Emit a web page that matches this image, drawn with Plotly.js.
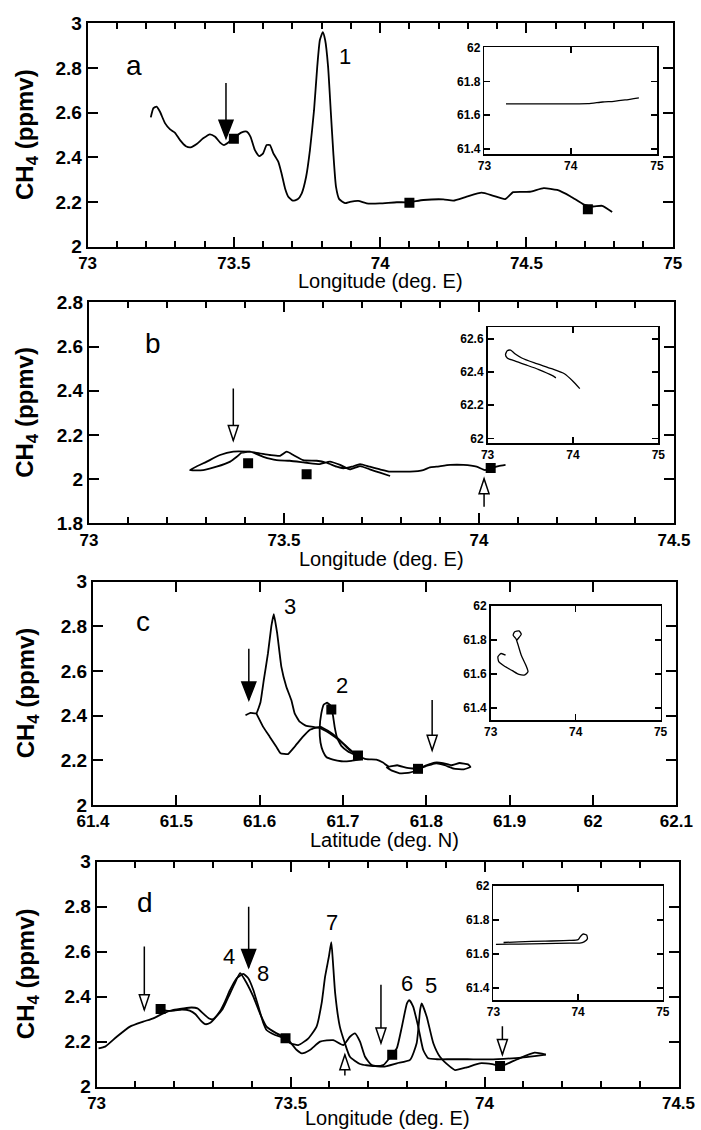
<!DOCTYPE html>
<html>
<head>
<meta charset="utf-8">
<script src="https://cdn.plot.ly/plotly-3.0.1.min.js"></script>
<style>html,body{margin:0;padding:0;background:#fff;}#chart{width:701px;height:1130px;}</style>
</head>
<body>
<div id="chart"></div>
<script>
// ---------------- Panel a ----------------
const aLon = [73.216,73.225,73.236,73.247,73.265,73.282,73.299,73.316,73.336,73.352,73.373,73.395,73.418,73.436,73.453,73.466,73.481,73.498,73.527,73.544,73.557,73.572,73.587,73.6,73.612,73.623,73.635,73.652,73.663,73.675,73.686,73.701,73.718,73.732,73.747,73.76,73.774,73.785,73.794,73.804,73.812,73.822,73.831,73.84,73.849,73.86,73.88,73.897,73.925,73.954,73.999,74.057,74.096,74.148,74.216,74.25,74.296,74.347,74.387,74.427,74.455,74.512,74.559,74.605,74.651,74.697,74.728,74.759,74.793];
const aCH4 = [2.579,2.62,2.627,2.605,2.552,2.525,2.51,2.477,2.45,2.445,2.46,2.485,2.503,2.492,2.466,2.455,2.466,2.485,2.512,2.515,2.492,2.432,2.405,2.418,2.455,2.455,2.418,2.38,2.328,2.261,2.224,2.206,2.212,2.239,2.313,2.432,2.611,2.806,2.925,2.96,2.925,2.806,2.611,2.418,2.269,2.213,2.195,2.201,2.205,2.194,2.194,2.199,2.199,2.209,2.212,2.206,2.224,2.242,2.228,2.213,2.244,2.246,2.262,2.254,2.225,2.188,2.18,2.183,2.155];
const aSqLon = [73.5, 74.1, 74.71];
const aSqCH4 = [2.483, 2.197, 2.168];
const aInsLon = [73.25, 73.6, 74.0, 74.2, 74.37, 74.5, 74.63, 74.79];
const aInsLat = [61.667, 61.667, 61.667, 61.668, 61.678, 61.682, 61.69, 61.703];

// ---------------- Panel b ----------------
const bLon = [74.068,74.05,74.026,74.015,73.994,73.96,73.926,73.891,73.874,73.857,73.823,73.797,73.772,73.746,73.72,73.695,73.674,73.652,73.635,73.609,73.584,73.549,73.524,73.507,73.49,73.464,73.43,73.404,73.37,73.336,73.302,73.259,73.293,73.327,73.362,73.379,73.391,73.413,73.447,73.481,73.515,73.558,73.592,73.618,73.644,73.669,73.695,73.72,73.746,73.772];
const bCH4 = [2.064,2.059,2.047,2.041,2.056,2.064,2.064,2.056,2.053,2.041,2.034,2.034,2.034,2.044,2.056,2.068,2.056,2.049,2.056,2.074,2.083,2.086,2.109,2.124,2.105,2.109,2.119,2.124,2.124,2.109,2.079,2.041,2.041,2.056,2.079,2.101,2.119,2.124,2.101,2.086,2.083,2.074,2.068,2.079,2.064,2.044,2.059,2.044,2.029,2.014];
const bSqLon = [73.408, 73.558, 74.03];
const bSqCH4 = [2.072, 2.022, 2.05];
const bInsLon = [74.08, 74.0, 73.9, 73.75, 73.55, 73.4, 73.32, 73.27, 73.23, 73.21, 73.23, 73.3, 73.45, 73.6, 73.76, 73.8];
const bInsLat = [62.3, 62.345, 62.39, 62.42, 62.455, 62.485, 62.51, 62.532, 62.528, 62.505, 62.485, 62.47, 62.443, 62.415, 62.378, 62.365];

// ---------------- Panel c ----------------
const cPeak3Lat = [61.583,61.589,61.596,61.601,61.605,61.61,61.614,61.617,61.621,61.626,61.632,61.638,61.642,61.648,61.656,61.664,61.672,61.68,61.69,61.7,61.708,61.718,61.728,61.74,61.748,61.755,61.765,61.777,61.79,61.8,61.81,61.82,61.83,61.84,61.85,61.853,61.845,61.833,61.822,61.812,61.8,61.79,61.78,61.768,61.758,61.752];
const cPeak3CH4 = [2.402,2.413,2.41,2.46,2.56,2.68,2.8,2.855,2.77,2.62,2.53,2.47,2.41,2.373,2.354,2.35,2.345,2.33,2.305,2.275,2.246,2.222,2.205,2.203,2.19,2.172,2.178,2.166,2.162,2.178,2.19,2.188,2.178,2.188,2.182,2.17,2.16,2.163,2.178,2.186,2.175,2.158,2.145,2.142,2.155,2.17];
const cDipLat = [61.596,61.604,61.612,61.62,61.625,61.634,61.642,61.652,61.66,61.667,61.673,61.682,61.692,61.702,61.71,61.718];
const cDipCH4 = [2.41,2.351,2.306,2.261,2.232,2.228,2.261,2.306,2.336,2.345,2.35,2.332,2.305,2.27,2.243,2.225];
const cPeak2Lat = [61.722,61.71,61.698,61.688,61.68,61.676,61.673,61.672,61.674,61.677,61.681,61.685,61.688,61.69,61.693,61.698,61.706,61.714];
const cPeak2CH4 = [2.205,2.198,2.196,2.203,2.215,2.24,2.28,2.34,2.41,2.45,2.458,2.445,2.4,2.35,2.3,2.265,2.24,2.225];
const cSqLat = [61.686, 61.718, 61.79];
const cSqCH4 = [2.428, 2.222, 2.162];
const cInsLon = [73.175,73.122,73.085,73.095,73.159,73.254,73.333,73.402,73.439,73.413,73.36,73.317,73.296,73.265,73.28,73.333,73.36,73.333,73.307];
const cInsLat = [61.711,61.721,61.702,61.673,61.647,61.62,61.598,61.595,61.614,61.653,61.711,61.78,61.809,61.828,61.848,61.854,61.834,61.815,61.799];

// ---------------- Panel d ----------------
const dOutLon = [73.005,73.022,73.052,73.086,73.12,73.146,73.172,73.198,73.224,73.245,73.26,73.275,73.29,73.3,73.31,73.325,73.34,73.355,73.37,73.387,73.404,73.421,73.438,73.464,73.49,73.516,73.529,73.55,73.576,73.61,73.636,73.653,73.666,73.679,73.692,73.709,73.739,73.774,73.808,73.825,73.834,73.838,73.851,73.868,73.885,73.911,73.924,73.954,73.988,74.02,74.043,74.083,74.129,74.158];
const dOutCH4 = [2.17,2.178,2.222,2.267,2.289,2.304,2.326,2.341,2.348,2.352,2.348,2.325,2.303,2.3,2.315,2.345,2.4,2.455,2.505,2.46,2.4,2.326,2.267,2.237,2.215,2.163,2.148,2.163,2.2,2.207,2.185,2.222,2.237,2.2,2.133,2.096,2.089,2.104,2.119,2.193,2.341,2.37,2.311,2.193,2.133,2.089,2.074,2.086,2.104,2.1,2.092,2.121,2.151,2.143];
const dRetLon = [74.158,74.129,74.095,74.049,74.002,73.956,73.911,73.877,73.855,73.842,73.829,73.816,73.806,73.8,73.787,73.774,73.761,73.739,73.713,73.679,73.653,73.64,73.627,73.615,73.609,73.605,73.599,73.589,73.58,73.567,73.546,73.52,73.499,73.486,73.46,73.438,73.43,73.417,73.404,73.391,73.378,73.361,73.344,73.33,73.318,73.305,73.292,73.28,73.268,73.255,73.24,73.22,73.2,73.18,73.165];
const dRetCH4 = [2.143,2.136,2.129,2.124,2.121,2.122,2.122,2.122,2.126,2.163,2.267,2.356,2.385,2.37,2.267,2.171,2.141,2.096,2.092,2.101,2.133,2.193,2.267,2.415,2.56,2.642,2.58,2.489,2.37,2.267,2.215,2.185,2.193,2.215,2.23,2.252,2.282,2.356,2.43,2.482,2.501,2.482,2.43,2.375,2.335,2.305,2.283,2.278,2.295,2.322,2.338,2.343,2.338,2.338,2.345];
const dSqLon = [73.165, 73.487, 73.762, 74.04];
const dSqCH4 = [2.345, 2.215, 2.142, 2.092];
const dInsLon = [73.03,73.3,73.6,73.9,74.02,74.07,74.11,74.1,74.06,74.03,74.0,73.9,73.6,73.3,73.12];
const dInsLat = [61.657,61.659,61.661,61.664,61.665,61.672,61.69,61.712,61.718,61.705,61.685,61.68,61.676,61.672,61.668];

// ---------------- Arrows & labels ----------------
const arrowPanel = ['a','b','b','c','c','d','d','d','d','d'];
const arrowX     = [73.473, 73.37, 74.013, 61.587, 61.807, 73.123, 73.392, 73.64, 73.733, 74.046];
const arrowTail  = [2.733, 2.41, 1.875, 2.70, 2.47, 2.623, 2.80, 2.05, 2.453, 2.269];
const arrowTip   = [2.485, 2.175, 2.002, 2.47, 2.245, 2.342, 2.53, 2.142, 2.194, 2.143];
const arrowFill  = [true, false, false, true, false, false, true, false, false, false];

const labelPanel = ['a','a','b','c','c','c','d','d','d','d','d','d'];
const labelText  = ['a','1','b','c','3','2','d','4','8','7','6','5'];
const labelX     = [73.16, 73.88, 73.164, 61.46, 61.636, 61.699, 73.124, 73.342, 73.429, 73.606, 73.8, 73.863];
const labelY     = [2.81, 2.85, 2.614, 2.82, 2.888, 2.537, 2.817, 2.58, 2.503, 2.73, 2.46, 2.45];

const yTitle = 'CH<sub>4</sub> (ppmv)';

// ---------------- Layout geometry (pixels) ----------------
const W = 701, H = 1130;
const panels = {
  a: {ax: '',  box: [87.6, 672.7, 23.3, 246.7],   xr: [73, 75],     yr: [2, 3],     dt: 0.5, minor: 0.1, xt: 'Longitude (deg. E)', xty: 281},
  b: {ax: '2', box: [89, 674, 302.3, 523.3],      xr: [73, 74.5],   yr: [1.8, 2.8], dt: 0.5, minor: 0.1, xt: 'Longitude (deg. E)', xty: 559},
  c: {ax: '3', box: [93, 676.3, 581.7, 805],      xr: [61.4, 62.1], yr: [2, 3],     dt: 0.1, minor: null, xt: 'Latitude (deg. N)', xty: 840},
  d: {ax: '4', box: [96.6, 678.5, 861.7, 1086.7], xr: [73, 74.5],   yr: [2, 3],     dt: 0.5, minor: 0.1, xt: 'Longitude (deg. E)', xty: 1118}
};
const insets = {
  a: {ax: '5', box: [484.4, 657, 47.3, 154],      yr: [61.37, 62.002]},
  b: {ax: '6', box: [487.6, 658.3, 327.3, 443.3], yr: [61.97, 62.67]},
  c: {ax: '7', box: [490.7, 660.6, 605.7, 720],   yr: [61.33, 62.002]},
  d: {ax: '8', box: [493.4, 662.8, 885.7, 1000],  yr: [61.33, 62.002]}
};

const FONT = 'Liberation Sans, Arial, Helvetica, sans-serif';
const layout = {
  width: W, height: H,
  margin: {l: 0, r: 0, t: 0, b: 0},
  paper_bgcolor: '#fff', plot_bgcolor: 'rgba(0,0,0,0)',
  showlegend: false,
  font: {family: FONT, color: '#000'},
  shapes: [], annotations: []
};

function xd(px) { return px / W; }
function yd(py) { return 1 - py / H; }

for (const k of Object.keys(panels)) {
  const p = panels[k];
  const xa = {
    domain: [xd(p.box[0]), xd(p.box[1])], anchor: 'y' + p.ax, range: p.xr,
    showline: true, linewidth: 2, linecolor: '#000', mirror: 'ticks',
    ticks: 'inside', ticklen: 10, tickwidth: 2, tickcolor: '#000', dtick: p.dt, tick0: p.xr[0],
    showgrid: false, zeroline: false,
    tickfont: {size: 17, family: FONT, weight: 'bold'}
  };
  if (p.minor) xa.minor = {dtick: p.minor, tick0: p.xr[0], ticks: 'inside', ticklen: 6, tickwidth: 2, tickcolor: '#000', showgrid: false};
  const ya = {
    domain: [yd(p.box[3]), yd(p.box[2])], anchor: 'x' + p.ax, range: p.yr,
    showline: true, linewidth: 2, linecolor: '#000', mirror: 'ticks',
    ticks: 'inside', ticklen: 10, tickwidth: 2, tickcolor: '#000', dtick: 0.2, tick0: p.yr[0],
    showgrid: false, zeroline: false,
    tickfont: {size: 19, family: FONT, weight: 'bold'}
  };
  layout['xaxis' + p.ax] = xa; layout['yaxis' + p.ax] = ya;
  // axis titles placed as annotations for exact positioning
  layout.annotations.push({xref: 'paper', yref: 'paper', x: xd((p.box[0] + p.box[1]) / 2), y: yd(p.xty),
    xanchor: 'center', yanchor: 'middle', text: p.xt, showarrow: false, font: {size: 20, family: FONT}});
  layout.annotations.push({xref: 'paper', yref: 'paper', x: xd(27), y: yd((p.box[2] + p.box[3]) / 2),
    xanchor: 'center', yanchor: 'middle', textangle: -90, text: yTitle, showarrow: false,
    font: {size: 24, family: FONT, weight: 'bold'}});
}
for (const k of Object.keys(insets)) {
  const p = insets[k];
  layout['xaxis' + p.ax] = {
    domain: [xd(p.box[0]), xd(p.box[1])], anchor: 'y' + p.ax, range: [73, 75],
    showline: true, linewidth: 1.6, linecolor: '#000', mirror: 'ticks',
    ticks: 'inside', ticklen: 6, tickwidth: 1.6, tickcolor: '#000', dtick: 1, tick0: 73,
    showgrid: false, zeroline: false, tickfont: {size: 12, family: FONT, weight: 'bold'}
  };
  layout['yaxis' + p.ax] = {
    domain: [yd(p.box[3]), yd(p.box[2])], anchor: 'x' + p.ax, range: p.yr,
    showline: true, linewidth: 1.6, linecolor: '#000', mirror: 'ticks',
    ticks: 'inside', ticklen: 6, tickwidth: 1.6, tickcolor: '#000', dtick: 0.2, tick0: 61,
    showgrid: false, zeroline: false, tickfont: {size: 12, family: FONT, weight: 'bold'}
  };
}

const LINE = {color: '#000', width: 1.8, shape: 'spline', smoothing: 0.5};
const LINE_C = {color: '#000', width: 1.8, shape: 'spline', smoothing: 0.3};
const INS = {color: '#000', width: 1.3, shape: 'spline', smoothing: 0.6};
const SQ = {symbol: 'square', size: 10, color: '#000'};

function line(x, y, ax, style) { return {x, y, xaxis: 'x' + ax, yaxis: 'y' + ax, type: 'scatter', mode: 'lines', line: style, hoverinfo: 'skip'}; }
function squares(x, y, ax) { return {x, y, xaxis: 'x' + ax, yaxis: 'y' + ax, type: 'scatter', mode: 'markers', marker: SQ, hoverinfo: 'skip'}; }

const data = [
  line(aLon, aCH4, '', LINE), squares(aSqLon, aSqCH4, ''),
  line(bLon, bCH4, '2', LINE), squares(bSqLon, bSqCH4, '2'),
  line(cPeak3Lat, cPeak3CH4, '3', LINE_C), line(cDipLat, cDipCH4, '3', LINE_C), line(cPeak2Lat, cPeak2CH4, '3', LINE_C), squares(cSqLat, cSqCH4, '3'),
  line(dOutLon, dOutCH4, '4', LINE), line(dRetLon, dRetCH4, '4', LINE), squares(dSqLon, dSqCH4, '4'),
  line(aInsLon, aInsLat, '5', INS), line(bInsLon, bInsLat, '6', INS),
  line(cInsLon, cInsLat, '7', INS), line(dInsLon, dInsLat, '8', INS)
];

// arrows as shapes (shaft + head with pixel-sized path anchored at the tip)
for (let i = 0; i < arrowX.length; i++) {
  const ax = panels[arrowPanel[i]].ax;
  const xr = 'x' + ax, yr = 'y' + ax;
  const down = arrowTip[i] < arrowTail[i];
  const hw = arrowFill[i] ? 7 : 5, hl = arrowFill[i] ? 18 : 15;
  const s = down ? 1 : -1;
  layout.shapes.push({type: 'line', xref: xr, yref: yr, x0: arrowX[i], x1: arrowX[i], y0: arrowTail[i], y1: arrowTip[i],
    line: {color: '#000', width: 1.5}});
  layout.shapes.push({type: 'path', xref: xr, yref: yr, xsizemode: 'pixel', ysizemode: 'pixel',
    xanchor: arrowX[i], yanchor: arrowTip[i],
    path: `M0,0 L${-hw},${s * hl} L${hw},${s * hl} Z`,
    fillcolor: arrowFill[i] ? '#000' : '#fff', line: {color: '#000', width: 1.5}});
}
for (let i = 0; i < labelText.length; i++) {
  const ax = panels[labelPanel[i]].ax;
  const isLetter = /[a-d]/.test(labelText[i]);
  layout.annotations.push({xref: 'x' + ax, yref: 'y' + ax, x: labelX[i], y: labelY[i], text: labelText[i],
    showarrow: false, font: {size: isLetter ? 28 : 22, family: FONT, color: '#000'}});
}

Plotly.newPlot('chart', data, layout, {staticPlot: true, displayModeBar: false});
</script>
</body>
</html>
